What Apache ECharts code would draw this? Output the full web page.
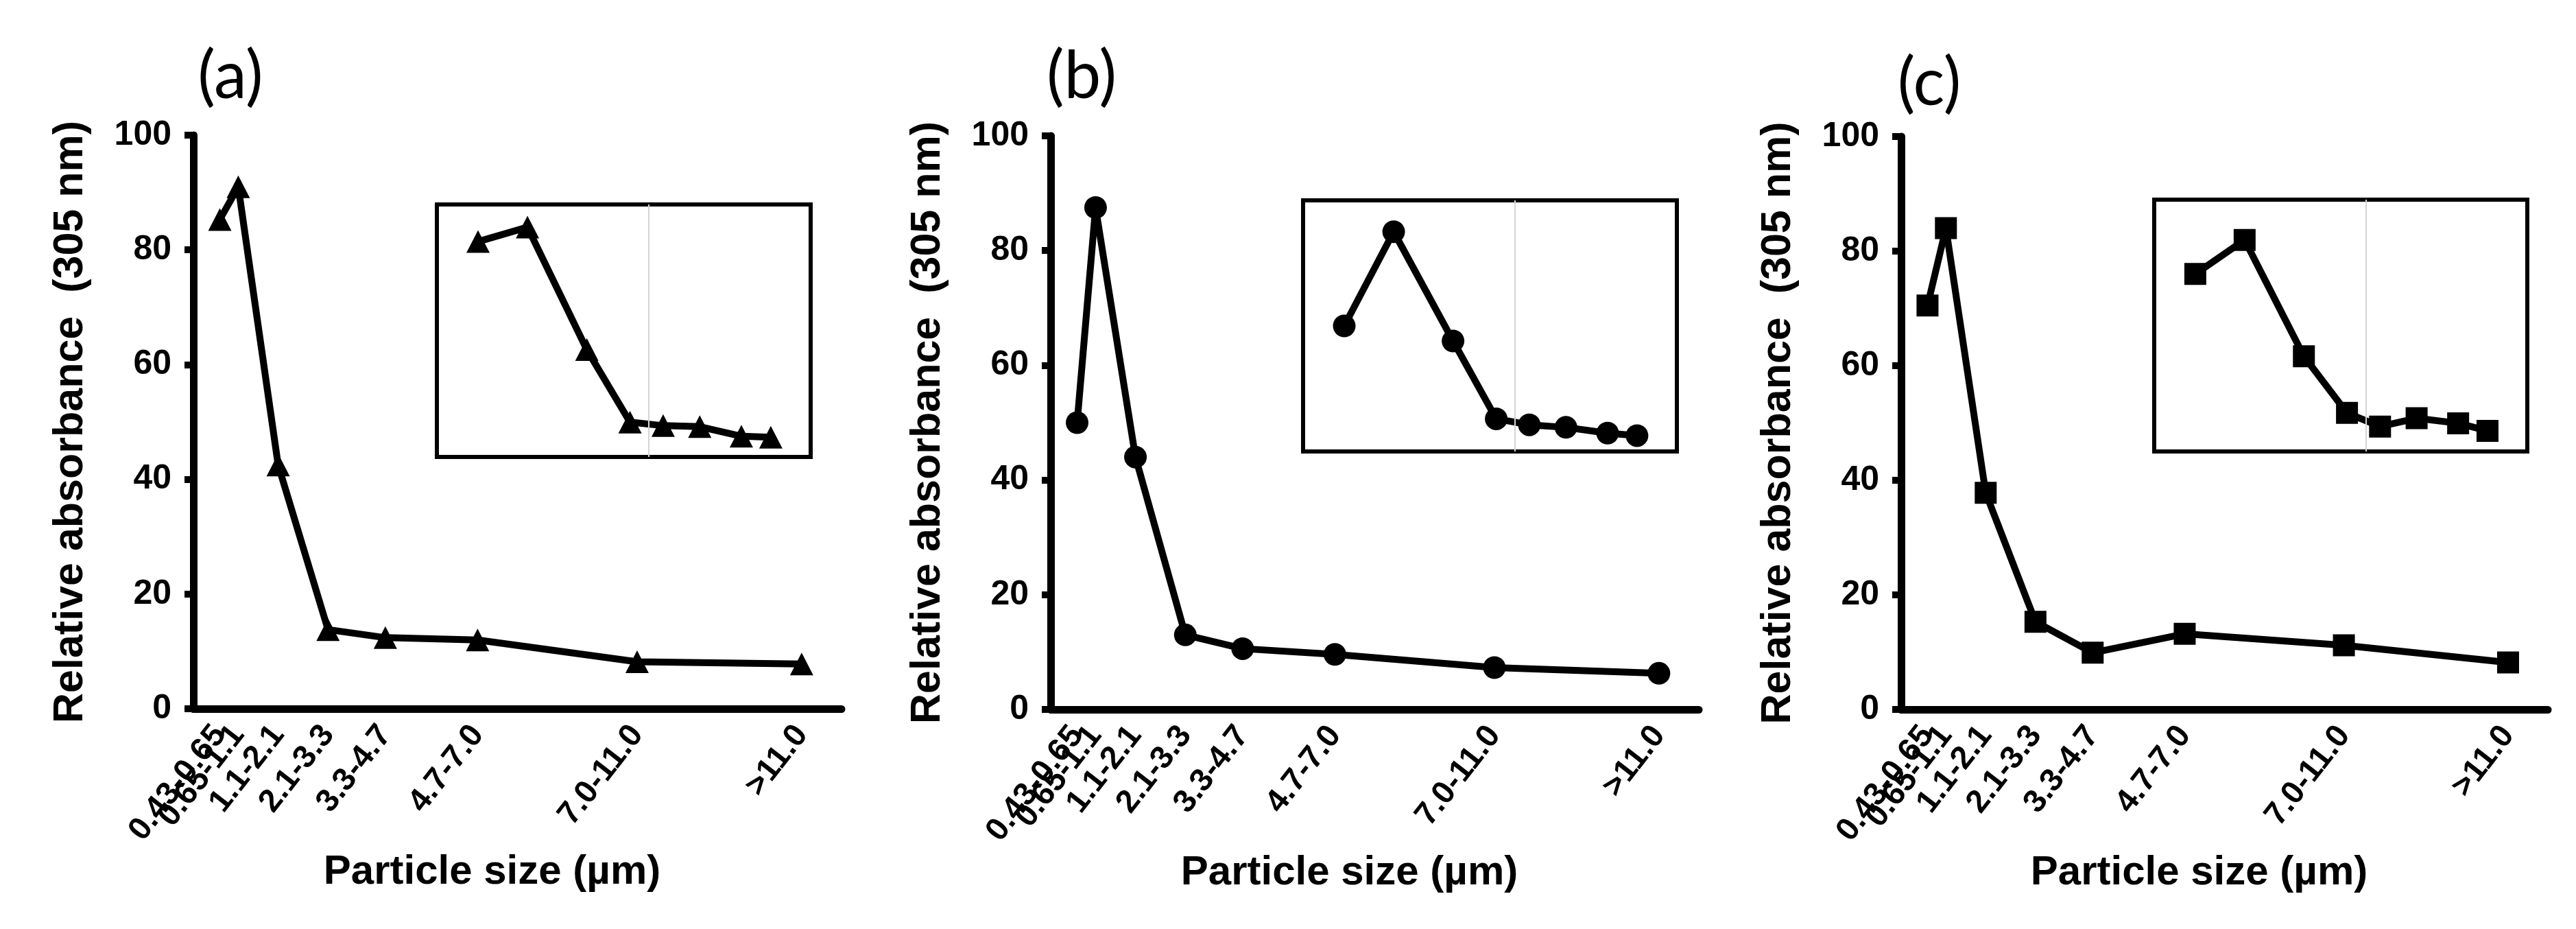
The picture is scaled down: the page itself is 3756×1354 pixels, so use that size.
<!DOCTYPE html>
<html>
<head>
<meta charset="utf-8">
<script src="https://cdn.jsdelivr.net/npm/echarts@6/dist/echarts.min.js"></script>
<style>
  html, body { margin: 0; padding: 0; background: #fff; }
  #main { width: 3756px; height: 1354px; }
</style>
</head>
<body>
<div id="main"></div>
<script>
// 粒径分级 (µm) 和各分级在坐标轴上的位置
var sizeLabels = ['0.43-0.65', '0.65-1.1', '1.1-2.1', '2.1-3.3', '3.3-4.7', '4.7-7.0', '7.0-11.0', '>11.0'];
var sizeMid = [0.53, 0.9, 1.7, 2.7, 3.85, 5.7, 8.9, 12.2];
// 相对吸光度 (305 nm)
var absA = [85.3, 91, 42.5, 13.8, 12.4, 12.0, 8.2, 7.8];
var absB = [50, 87.5, 44, 13, 10.6, 9.6, 7.3, 6.3];
var absC = [70.5, 84, 37.8, 15.3, 9.9, 13.2, 11.2, 8.2];
var yMin = 0, yMax = 100, yStep = 20;
var xMin = 0, xMax = 13;
// 小图用对数坐标
var insetMin = 0.341, insetMax = 18.7, insetGuide = 3.3;
var panelNames = ['(a)', '(b)', '(c)'];
var symbols = ['triangle', 'circle', 'rect'];

var FONT = '"Liberation Sans", Arial, sans-serif';

var panels = [
    {data: absA, grid: [282, 197, 945, 836], inset: [637, 298, 545, 368], label: [336, 112], size: [34, 33]},
    {data: absB, grid: [1532, 198, 945, 836], inset: [1900, 292, 545, 366], label: [1577, 112], size: [33, 33]},
    {data: absC, grid: [2772, 199, 943, 835], inset: [3141, 291, 544, 367], label: [2813, 122], size: [32, 32]}
];

// 相邻标签太近会被自动隐藏，所以奇偶分到两条坐标轴上
var evenTicks = sizeMid.filter(function (v, k) { return k % 2 === 0; });
var oddTicks = sizeMid.filter(function (v, k) { return k % 2 === 1; });

var tickLabel = function (values) {
    return {
        customValues: values,
        formatter: function (v) { return sizeLabels[sizeMid.indexOf(v)]; },
        showMinLabel: true, showMaxLabel: true, hideOverlap: false,
        rotate: 52, margin: 30,
        fontSize: 47, fontWeight: 'bold', color: '#000', fontFamily: FONT
    };
};

var grid = [], xAxis = [], yAxis = [], series = [], graphic = [];

panels.forEach(function (p, i) {
    var pts = sizeMid.map(function (x, k) { return [x, p.data[k]]; });

    /*主图*/
    grid.push({left: p.grid[0], top: p.grid[1], width: p.grid[2], height: p.grid[3]});
    var g = grid.length - 1;
    var xi = xAxis.length;
    xAxis.push({
        gridIndex: g, position: 'bottom', offset: 0,
        type: 'value', min: xMin, max: xMax,
        axisLine: {show: true, onZero: false, lineStyle: {color: '#000', width: 11}},
        axisTick: {show: false},
        splitLine: {show: false},
        axisLabel: tickLabel(evenTicks),
        name: 'Particle size (µm)',
        nameLocation: 'middle', nameGap: 206,
        nameTextStyle: {fontSize: 60, fontWeight: 'bold', color: '#000', fontFamily: FONT, padding: [0, 74, 0, 0]}
    });
    xAxis.push({
        gridIndex: g, position: 'bottom', offset: 0,
        type: 'value', min: xMin, max: xMax,
        axisLine: {show: false, onZero: false},
        axisTick: {show: false},
        splitLine: {show: false},
        axisLabel: tickLabel(oddTicks)
    });
    var yi = yAxis.length;
    yAxis.push({
        gridIndex: g,
        type: 'value', min: yMin, max: yMax, interval: yStep,
        axisLine: {show: true, lineStyle: {color: '#000', width: 11}},
        axisTick: {show: true, length: 13, lineStyle: {color: '#000', width: 10}},
        splitLine: {show: false},
        axisLabel: {margin: 32, fontSize: 50, fontWeight: 'bold', color: '#000', fontFamily: FONT},
        name: 'Relative absorbance  (305 nm)',
        nameLocation: 'middle', nameGap: 148,
        nameTextStyle: {fontSize: 61, fontWeight: 'bold', color: '#000', fontFamily: FONT}
    });
    series.push({
        type: 'line', xAxisIndex: xi, yAxisIndex: yi,
        data: pts,
        symbol: symbols[i], symbolSize: p.size, showAllSymbol: true,
        lineStyle: {color: '#000', width: 10},
        itemStyle: {color: '#000'},
        animation: false
    });

    /*小图*/
    grid.push({
        left: p.inset[0], top: p.inset[1], width: p.inset[2], height: p.inset[3],
        show: true, borderColor: '#000', borderWidth: 6, backgroundColor: '#fff'
    });
    g = grid.length - 1;
    xi = xAxis.length;
    xAxis.push({
        gridIndex: g,
        type: 'log', min: insetMin, max: insetMax,
        axisLine: {show: false}, axisTick: {show: false}, axisLabel: {show: false}, splitLine: {show: false}
    });
    yi = yAxis.length;
    yAxis.push({
        gridIndex: g,
        type: 'value', min: yMin, max: yMax,
        axisLine: {show: false}, axisTick: {show: false}, axisLabel: {show: false}, splitLine: {show: false}
    });
    series.push({
        type: 'line', xAxisIndex: xi, yAxisIndex: yi,
        data: pts,
        symbol: symbols[i], symbolSize: p.size, showAllSymbol: true,
        lineStyle: {color: '#000', width: 10},
        itemStyle: {color: '#000'},
        markLine: {
            silent: true, symbol: ['none', 'none'], label: {show: false},
            lineStyle: {color: '#d4d4d4', width: 2, type: 'solid'},
            data: [{xAxis: insetGuide}]
        },
        clip: false,
        animation: false
    });

    graphic.push({
        type: 'text', x: p.label[0], y: p.label[1],
        style: {text: panelNames[i], fontSize: 96, fontFamily: 'Lato, "Liberation Sans", sans-serif',
            fill: '#000', align: 'center', verticalAlign: 'middle'}
    });
});

var myChart = echarts.init(document.getElementById('main'), null, {renderer: 'canvas'});
myChart.setOption({
    backgroundColor: '#fff',
    animation: false,
    grid: grid,
    xAxis: xAxis,
    yAxis: yAxis,
    series: series,
    graphic: graphic
});
</script>
</body>
</html>
